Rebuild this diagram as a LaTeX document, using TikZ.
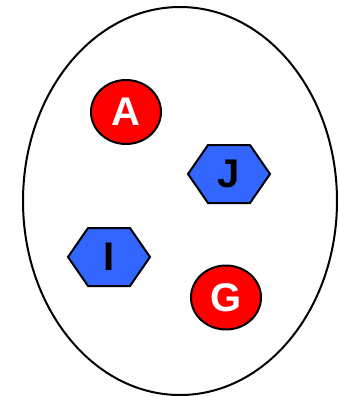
\documentclass[tikz,border=0pt]{standalone}
\usepackage{fontspec}
\setmainfont{Liberation Sans}
\usetikzlibrary{shapes.geometric}
\definecolor{ballred}{HTML}{FF0000}
\definecolor{hexblue}{HTML}{3366FF}
\tikzset{
  outline/.style={draw=black, line width=2pt},
  ball/.style={outline, ellipse, fill=ballred, text=white, inner sep=0pt,
    minimum width=70pt, minimum height=64pt, font=\bfseries\fontsize{40}{40}\selectfont},
  hexlabel/.style={inner sep=0pt, text=black, font=\bfseries\fontsize{40}{40}\selectfont},
  hexa/.style={outline, fill=hexblue, line join=miter}
}
% flat-topped, slightly squashed hexagon around a point
\newcommand\hexshape[1]{\draw[hexa] (#1) ++(-41pt,0pt) -- ++(20pt,29pt) -- ++(42pt,0pt)
  -- ++(20pt,-29pt) -- ++(-20pt,-29pt) -- ++(-42pt,0pt) -- cycle;}
\begin{document}
\begin{tikzpicture}[x=1pt, y=-1pt]
  \useasboundingbox (0,0) rectangle (339,396);
  % enclosing set
  \node[outline, ellipse, minimum width=314pt, minimum height=388pt, inner sep=0pt] (set) at (180,201) {};
  % members
  \node[ball] (A) at (126,112) {A};
  \node[ball] (G) at (226,297.5) {G};
  \coordinate (Jc) at (229,174);
  \coordinate (Ic) at (109,257);
  \hexshape{Jc}
  \hexshape{Ic}
  \node[hexlabel] (J) at (Jc) {J};
  \node[hexlabel] (I) at (Ic) {I};
\end{tikzpicture}
\end{document}
